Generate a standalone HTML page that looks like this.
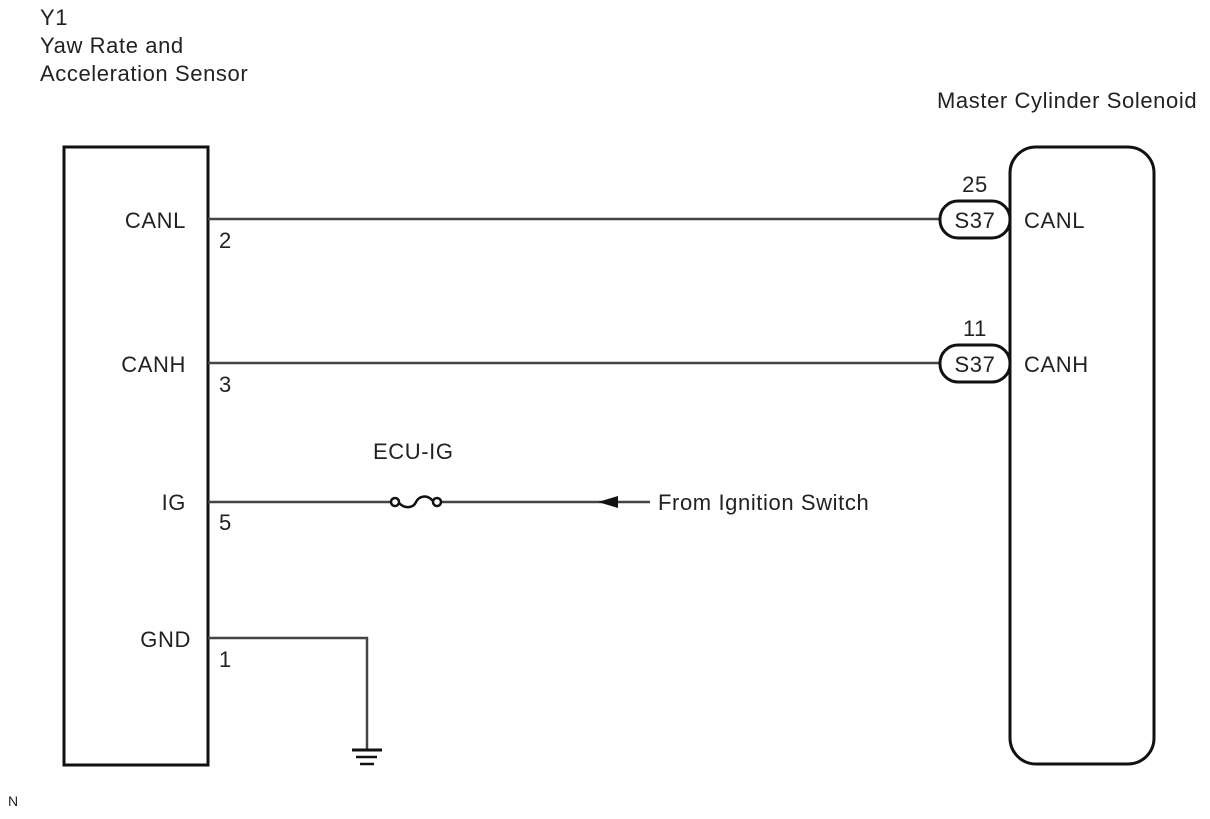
<!DOCTYPE html>
<html><head><style>
html,body{margin:0;padding:0;background:#fff;}
svg text{font-family:"Liberation Sans",Arial,sans-serif;font-size:22px;letter-spacing:0.6px;fill:#222;}
</style></head><body>
<svg width="1210" height="814" viewBox="0 0 1210 814" xmlns="http://www.w3.org/2000/svg">
<text x="40" y="25">Y1</text>
<text x="40" y="53">Yaw Rate and</text>
<text x="40" y="81">Acceleration Sensor</text>
<text x="937" y="108">Master Cylinder Solenoid</text>
<rect x="64" y="147" width="144" height="618" fill="none" stroke="#111" stroke-width="3"/>
<rect x="1010" y="147" width="144" height="617" rx="26" fill="none" stroke="#111" stroke-width="3"/>
<g stroke="#444" stroke-width="2.5" fill="none">
<line x1="208" y1="219" x2="940" y2="219"/>
<line x1="208" y1="363" x2="940" y2="363"/>
<line x1="208" y1="502" x2="391" y2="502"/>
<line x1="441" y1="502" x2="650" y2="502"/>
<polyline points="208,638 367,638 367,750"/>
</g>
<g stroke="#111" stroke-width="2.5" fill="#fff">
<circle cx="395" cy="502" r="4"/>
<circle cx="437" cy="502" r="4"/>
<path d="M399,503 C406,510 414,507 416,502 C419,496 427,494 433,501" fill="none"/>
</g>
<polygon points="598,502 618,496 618,508" fill="#111"/>
<g stroke="#111">
<line x1="352" y1="750" x2="382" y2="750" stroke-width="3"/>
<line x1="356" y1="757" x2="377" y2="757" stroke-width="2.5"/>
<line x1="360" y1="764" x2="374" y2="764" stroke-width="2.5"/>
</g>
<rect x="940" y="201" width="70" height="37" rx="18" fill="#fff" stroke="#111" stroke-width="3"/>
<rect x="940" y="345" width="70" height="37" rx="18" fill="#fff" stroke="#111" stroke-width="3"/>
<text x="975" y="228" text-anchor="middle">S37</text>
<text x="975" y="372" text-anchor="middle">S37</text>
<text x="975" y="192" text-anchor="middle">25</text>
<text x="975" y="336" text-anchor="middle">11</text>
<text x="1024" y="228">CANL</text>
<text x="1024" y="372">CANH</text>
<text x="186" y="228" text-anchor="end">CANL</text>
<text x="186" y="372" text-anchor="end">CANH</text>
<text x="186" y="510" text-anchor="end">IG</text>
<text x="191" y="647" text-anchor="end">GND</text>
<text x="219" y="248">2</text>
<text x="219" y="392">3</text>
<text x="219" y="530">5</text>
<text x="219" y="667">1</text>
<text x="373" y="459">ECU-IG</text>
<text x="658" y="510">From Ignition Switch</text>
<text x="8" y="806" style="font-size:14px;letter-spacing:0">N</text>
</svg>
</body></html>
